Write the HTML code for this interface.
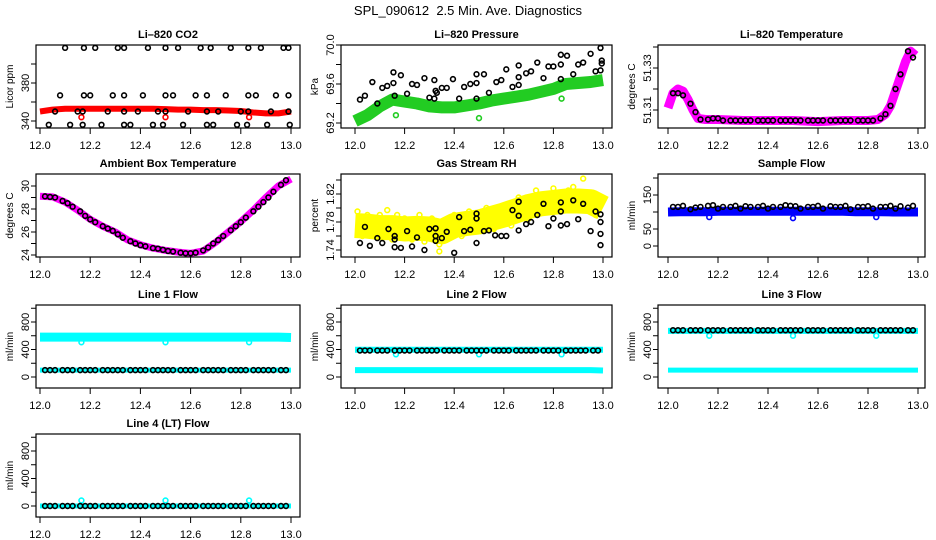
<!DOCTYPE html>
<html><head><meta charset="utf-8"><title>SPL_090612 Diagnostics</title>
<style>
html,body{margin:0;padding:0;background:#fff;}
svg{display:block;font-family:"Liberation Sans",sans-serif;}
</style></head>
<body>
<svg id="chart" width="936" height="540" viewBox="0 0 936 540" xmlns="http://www.w3.org/2000/svg">
<text x="468" y="15" font-size="13" text-anchor="middle" style="white-space:pre" xml:space="preserve">SPL_090612  2.5 Min. Ave. Diagnostics</text>
</svg>
<script>
// ---- shared data arrays ----
const xTicks = [12.0, 12.2, 12.4, 12.6, 12.8, 13.0];
const xTickLabels = ["12.0", "12.2", "12.4", "12.6", "12.8", "13.0"];
const bandTimes = [12.0,12.05,12.1,12.15,12.2,12.25,12.3,12.35,12.4,12.45,12.5,12.55,12.6,12.65,12.7,12.75,12.8,12.85,12.9,12.95,13.0];
const blackTimes = [12.02,12.04,12.06,12.09,12.11,12.13,12.16,12.18,12.20,12.22,12.25,12.27,12.29,12.31,12.33,12.36,12.38,12.40,12.42,12.45,12.47,12.49,12.51,12.53,12.56,12.58,12.60,12.62,12.65,12.67,12.69,12.71,12.73,12.76,12.78,12.80,12.82,12.85,12.87,12.89,12.91,12.93,12.96,12.98];
const outlierTimes = [12.165, 12.5, 12.833];

// CO2
const co2Red = [350,352,353,353,353,353,353,353,353,353,352.5,352,352,351.5,351.5,351,350.5,349,348,348,350];
const co2RedOut = [344,344,344];
const co2BlackT = [12.10,12.175,12.22,12.31,12.335,12.43,12.50,12.55,12.64,12.68,12.76,12.83,12.88,12.97,12.99,
 12.08,12.175,12.20,12.29,12.335,12.41,12.50,12.53,12.62,12.665,12.74,12.83,12.86,12.94,12.99,
 12.06,12.15,12.17,12.27,12.335,12.39,12.47,12.50,12.59,12.665,12.71,12.80,12.83,12.92,12.99,
 12.035,12.12,12.17,12.245,12.335,12.36,12.45,12.49,12.57,12.665,12.69,12.785,12.825,12.905,12.995];
const co2BlackV = [417,417,417,417,417,417,417,417,417,417,417,417,417,417,417,
 367,367,367,367,367,367,367,367,367,367,367,367,367,367,367,
 350,350,350,350,350,350,350,350,350,350,350,350,350,350,350,
 336,336,336,336,336,336,336,336,336,336,336,336,336,336,336];

// Pressure
const presGreen = [69.22,69.28,69.37,69.44,69.42,69.40,69.37,69.36,69.36,69.38,69.40,69.43,69.45,69.47,69.49,69.52,69.55,69.60,69.61,69.62,69.64];
const presGreenOut = [69.28,69.25,69.45];
const presBlackT = [12.02,12.04,12.07,12.09,12.11,12.13,12.155,12.155,12.16,12.185,12.21,12.23,12.25,12.28,12.30,12.32,12.32,12.325,12.33,12.35,12.37,12.395,12.42,12.44,12.465,12.49,12.49,12.49,12.52,12.54,12.57,12.59,12.61,12.635,12.66,12.66,12.66,12.69,12.71,12.735,12.76,12.78,12.80,12.83,12.83,12.83,12.855,12.88,12.90,12.92,12.95,12.97,12.99,12.99,12.995,12.995];
const presBlackV = [69.44,69.48,69.62,69.40,69.56,69.58,69.61,69.72,69.48,69.69,69.50,69.60,69.59,69.66,69.46,69.64,69.45,69.53,69.51,69.56,69.56,69.65,69.45,69.57,69.60,69.61,69.70,69.45,69.70,69.51,69.62,69.64,69.75,69.57,69.59,69.79,69.67,69.71,69.73,69.82,69.66,69.78,69.78,69.80,69.90,69.65,69.89,69.70,69.80,69.82,69.91,69.73,69.74,69.97,69.84,69.81];

// Li-820 temperature
const tempTimes = [12.0,12.02,12.04,12.06,12.08,12.1,12.12,12.15,12.2,12.3,12.4,12.5,12.6,12.7,12.8,12.84,12.87,12.89,12.91,12.93,12.95,12.97,12.99];
const tempMagenta = [51.311,51.318,51.320,51.319,51.315,51.310,51.306,51.3055,51.3055,51.305,51.305,51.305,51.3045,51.305,51.305,51.3055,51.308,51.312,51.319,51.326,51.333,51.338,51.336];
const tempBlack = [51.318,51.318,51.317,51.313,51.309,51.3055,51.3055,51.306,51.306,51.305,51.305,51.305,51.305,51.305,51.305,51.305,51.305,51.305,51.305,51.305,51.305,51.305,51.305,51.305,51.305,51.305,51.305,51.305,51.305,51.305,51.305,51.305,51.305,51.305,51.305,51.305,51.305,51.306,51.308,51.312,51.320,51.327,51.338,51.335];

// Ambient box temperature
const ambMagenta = [29.1,29.05,28.6,27.9,27.1,26.5,26.0,25.3,24.9,24.6,24.4,24.25,24.15,24.35,25.1,26.0,26.9,27.9,29.0,30.0,30.6];
const ambBlack = [29.1,29.05,29.0,28.7,28.5,28.2,27.8,27.4,27.1,26.85,26.5,26.3,26.1,25.8,25.5,25.2,25.0,24.85,24.75,24.6,24.55,24.45,24.35,24.3,24.2,24.15,24.15,24.2,24.4,24.65,25.0,25.3,25.65,26.15,26.5,26.85,27.25,27.8,28.2,28.6,29.0,29.5,30.1,30.5];

// Gas stream RH
const rhYellowBand = [1.775,1.774,1.772,1.772,1.770,1.771,1.770,1.766,1.775,1.778,1.780,1.785,1.790,1.796,1.802,1.806,1.808,1.810,1.810,1.809,1.800];
const rhYellowT = [12.01,12.03,12.05,12.08,12.10,12.13,12.15,12.17,12.2,12.23,12.26,12.28,12.31,12.34,12.34,12.37,12.4,12.43,12.46,12.5,12.53,12.56,12.6,12.63,12.66,12.7,12.73,12.76,12.8,12.83,12.86,12.88,12.9,12.92,12.95,12.97,12.99,12.02,12.07,12.12,12.19,12.25,12.3,12.45,12.55,12.62,12.68,12.75,12.82,12.94];
const rhYellowV = [1.795,1.760,1.790,1.760,1.790,1.797,1.755,1.790,1.785,1.755,1.790,1.752,1.785,1.738,1.748,1.760,1.790,1.760,1.795,1.770,1.800,1.770,1.800,1.775,1.815,1.785,1.825,1.795,1.828,1.795,1.825,1.830,1.800,1.842,1.820,1.790,1.810,1.780,1.785,1.765,1.775,1.780,1.762,1.785,1.785,1.800,1.805,1.815,1.812,1.815];
const rhBlackT = [12.02,12.04,12.06,12.09,12.11,12.135,12.16,12.16,12.16,12.185,12.21,12.23,12.25,12.28,12.30,12.325,12.325,12.325,12.35,12.37,12.40,12.42,12.44,12.465,12.49,12.49,12.49,12.52,12.54,12.565,12.59,12.61,12.635,12.66,12.66,12.66,12.69,12.71,12.735,12.76,12.78,12.80,12.83,12.83,12.83,12.855,12.88,12.90,12.92,12.95,12.97,12.99,12.99,12.99,12.99];
const rhBlackV = [1.750,1.773,1.746,1.757,1.750,1.770,1.744,1.755,1.760,1.743,1.767,1.745,1.758,1.740,1.770,1.771,1.760,1.753,1.757,1.766,1.736,1.787,1.767,1.769,1.792,1.785,1.750,1.767,1.768,1.761,1.760,1.760,1.797,1.789,1.809,1.768,1.777,1.780,1.790,1.806,1.774,1.785,1.795,1.808,1.775,1.777,1.811,1.784,1.806,1.767,1.795,1.791,1.780,1.763,1.747];

// Sample flow
const sampBlue = [100,101,101,101,102,102,102,102,102,102,102,102,102,102,102,101,101,101,100,100,100];
const sampBlueOut = [85,82,85];
const sampBlack = [115,115,118,108,113,115,118,120,110,115,115,118,110,117,115,115,118,110,115,115,120,118,117,110,115,115,118,110,117,115,115,118,108,115,115,117,110,115,115,118,110,117,113,118];

// Line flows
const line1CyanHigh = [580,580,580,580,580,580,580,580,580,580,580,580,580,580,580,580,580,580,580,580,575];
const line1CyanLow = [100,100,100,100,100,100,100,100,100,100,100,100,100,100,100,100,100,100,100,100,100];
const line1CyanOut = [505,505,505];
const line1Black = [100,100,100,100,100,100,100,100,100,100,100,100,100,100,100,100,100,100,100,100,100,100,100,100,100,100,100,100,100,100,100,100,100,100,100,100,100,100,100,100,100,100,100,100];
const line2CyanHigh = [395,395,395,395,395,395,395,395,395,395,395,395,395,395,395,395,395,395,395,395,395];
const line2CyanLow = [100,100,100,100,100,100,100,100,100,100,100,100,100,100,100,100,100,100,100,100,95];
const line2CyanOut = [330,330,330];
const line2Black = [385,385,385,385,385,385,385,385,385,385,385,385,385,385,385,385,385,385,385,385,385,385,385,385,385,385,385,385,385,385,385,385,385,385,385,385,385,385,385,385,385,385,385,385];
const line3CyanHigh = [670,670,670,670,670,670,670,670,670,670,670,670,670,670,670,670,670,670,670,670,670];
const line3CyanLow = [100,100,100,100,100,100,100,100,100,100,100,100,100,100,100,100,100,100,100,100,100];
const line3CyanOut = [600,600,600];
const line3Black = [680,680,680,680,680,680,680,680,680,680,680,680,680,680,680,680,680,680,680,680,680,680,680,680,680,680,680,680,680,680,680,680,680,680,680,680,680,680,680,680,680,680,680,680];
const line4Cyan = [0,0,0,0,0,0,0,0,0,0,0,0,0,0,0,0,0,0,0,0,0];
const line4CyanOut = [80,80,80];
const line4Black = [0,0,0,0,0,0,0,0,0,0,0,0,0,0,0,0,0,0,0,0,0,0,0,0,0,0,0,0,0,0,0,0,0,0,0,0,0,0,0,0,0,0,0,0];

// y tick arrays
const co2YTicks = [340,360,380,400];      const co2YLabels = ["340","","380",""];
const presYTicks = [69.2,69.4,69.6,69.8,70.0]; const presYLabels = ["69.2","","69.6","","70.0"];
const tempYTicks = [51.31,51.32,51.33,51.34]; const tempYLabels = ["51.31","","51.33",""];
const ambYTicks = [24,25,26,27,28,29,30];  const ambYLabels = ["24","","26","","28","","30"];
const rhYTicks = [1.74,1.76,1.78,1.80,1.82,1.84]; const rhYLabels = ["1.74","","1.78","","1.82",""];
const sampYTicks = [0,50,100,150,200];   const sampYLabels = ["0","50","","150",""];
const flowYTicks = [0,200,400,600,800,1000]; const flowYLabels = ["0","","400","","800",""];

const NS = "http://www.w3.org/2000/svg";
const svg = document.getElementById("chart");
function mk(tag, attrs, parent) {
  const e = document.createElementNS(NS, tag);
  for (const k in attrs) e.setAttribute(k, attrs[k]);
  (parent || svg).appendChild(e);
  return e;
}
function makeScales(p) {
  p.sx = t => p.x0 + (t - 12) * (p.x1 - p.x0);
  p.sy = v => p.yA + (v - p.vA) * (p.yB - p.yA) / (p.vB - p.vA);
}
function drawFrame(p, yTicks, yLabels) {
  makeScales(p);
  const g = mk("g", {});
  
  
  p.g = g;
  const clip = mk("clipPath", {id: "clip-" + p.name}, g);
  mk("rect", {x: p.L, y: p.T, width: p.R - p.L, height: p.B - p.T}, clip);
  p.plot = mk("g", {"clip-path": "url(#clip-" + p.name + ")"}, g);
  
  
  const t = mk("text", {x: (p.L + p.R) / 2, y: p.T - 7, "font-size": 11, "font-weight": "bold", "text-anchor": "middle"}, g);
  t.textContent = p.title;
  
  
  const yl = mk("text", {transform: "translate(" + (p.L - 23) + "," + ((p.T + p.B) / 2) + ") rotate(-90)", "font-size": 10, "text-anchor": "middle"}, g);
  yl.textContent = p.ylab;
  
  
  const xa = mk("g", {}, g);
  
  
  xTicks.forEach((v, i) => {
    const x = p.sx(v);
    mk("line", {x1: x, x2: x, y1: p.B, y2: p.B + 6, stroke: "#000", "stroke-width": 1}, xa);
    const tl = mk("text", {x: x, y: p.B + 21, "font-size": 11, "text-anchor": "middle"}, xa);
    tl.textContent = xTickLabels[i];
    
    
  });
  const ya = mk("g", {}, g);
  
  
  yTicks.forEach((v, i) => {
    const y = p.sy(v);
    if (y < p.T - 1 || y > p.B + 1) return;
    mk("line", {x1: p.L - 5, x2: p.L, y1: y, y2: y, stroke: "#000", "stroke-width": 1}, ya);
    if (yLabels[i]) {
      const tl = mk("text", {transform: "translate(" + (p.L - 7) + "," + y + ") rotate(-90)", "font-size": 11, "text-anchor": "middle"}, ya);
      tl.textContent = yLabels[i];
      
      
    }
  });
  p.box = mk("rect", {x: p.L, y: p.T, width: p.R - p.L, height: p.B - p.T, fill: "none", stroke: "#000", "stroke-width": 1.2}, g);
  
  
}
function band(p, times, vals, color, width, name) {
  const pts = times.map((t, i) => p.sx(t).toFixed(1) + "," + p.sy(vals[i]).toFixed(1)).join(" ");
  const pl = mk("polyline", {points: pts, fill: "none", stroke: color, "stroke-width": width, "stroke-linejoin": "round", "stroke-linecap": "butt"}, p.plot);
  
  
}
function pointsOf(p, times, vals, color, name, r, sw) {
  const g = mk("g", {}, p.plot);
  
  
  const n = Math.min(times.length, vals.length);
  for (let i = 0; i < n; i++) {
    const c = mk("circle", {cx: p.sx(times[i]), cy: p.sy(vals[i]), r: r || 2.4, fill: "none", stroke: color, "stroke-width": sw || 1.6}, g);
    
    
  }
}

const col1 = {L: 36, R: 300, x0: 40, x1: 291};
const col2 = {L: 341, R: 612, x0: 355, x1: 603};
const col3 = {L: 658, R: 925, x0: 668, x1: 918};
function P(col, T, extra) { return Object.assign({}, col, {T: T, B: T + 83}, extra); }

// Row 1
let p = P(col1, 45, {name: "co2", title: "Li\u2013820 CO2", ylab: "Licor ppm", vA: 340, yA: 121, vB: 380, yB: 83});
drawFrame(p, co2YTicks, co2YLabels);
band(p, bandTimes, co2Red, "#ff0000", 6, "co2-red-series");
pointsOf(p, outlierTimes, co2RedOut, "#ff0000", "co2-red-outliers");
pointsOf(p, co2BlackT, co2BlackV, "#000", "co2-black-series");

p = P(col2, 45, {name: "pressure", title: "Li\u2013820 Pressure", ylab: "kPa", vA: 69.2, yA: 123, vB: 70.0, yB: 45});
drawFrame(p, presYTicks, presYLabels);
band(p, bandTimes, presGreen, "#22cc22", 12, "pressure-green-series");
pointsOf(p, outlierTimes, presGreenOut, "#22cc22", "pressure-green-outliers");
pointsOf(p, presBlackT, presBlackV, "#000", "pressure-black-series");

p = P(col3, 45, {name: "li820-temp", title: "Li\u2013820 Temperature", ylab: "degrees C", vA: 51.31, yA: 110, vB: 51.33, yB: 68});
drawFrame(p, tempYTicks, tempYLabels);
band(p, tempTimes, tempMagenta, "#ff00ff", 9, "li820-temp-magenta-series");
pointsOf(p, blackTimes, tempBlack, "#000", "li820-temp-black-series");

// Row 2
p = P(col1, 174, {name: "ambient-temp", title: "Ambient Box Temperature", ylab: "degrees C", vA: 24, yA: 255, vB: 30, yB: 186});
drawFrame(p, ambYTicks, ambYLabels);
band(p, bandTimes, ambMagenta, "#ff00ff", 7, "ambient-magenta-series");
pointsOf(p, blackTimes, ambBlack, "#000", "ambient-black-series");

p = P(col2, 174, {name: "rh", title: "Gas Stream RH", ylab: "percent", vA: 1.74, yA: 250, vB: 1.82, yB: 194});
drawFrame(p, rhYTicks, rhYLabels);
band(p, bandTimes, rhYellowBand, "#ffff00", 25, "rh-yellow-band");
pointsOf(p, rhYellowT, rhYellowV, "#ffff00", "rh-yellow-series");
pointsOf(p, rhBlackT, rhBlackV, "#000", "rh-black-series");

p = P(col3, 174, {name: "sample-flow", title: "Sample Flow", ylab: "ml/min", vA: 0, yA: 246, vB: 150, yB: 195});
drawFrame(p, sampYTicks, sampYLabels);
band(p, bandTimes, sampBlue, "#0000ff", 9, "sample-blue-series");
pointsOf(p, outlierTimes, sampBlueOut, "#0000ff", "sample-blue-outliers");
pointsOf(p, blackTimes, sampBlack, "#000", "sample-black-series");

// Row 3
p = P(col1, 305, {name: "line1-flow", title: "Line 1 Flow", ylab: "ml/min", vA: 0, yA: 377, vB: 800, yB: 322});
drawFrame(p, flowYTicks, flowYLabels);
band(p, bandTimes, line1CyanHigh, "#00ffff", 9, "line1-cyan-high");
band(p, bandTimes, line1CyanLow, "#00ffff", 5, "line1-cyan-low");
pointsOf(p, outlierTimes, line1CyanOut, "#00ffff", "line1-cyan-outliers");
pointsOf(p, blackTimes, line1Black, "#000", "line1-black-series");

p = P(col2, 305, {name: "line2-flow", title: "Line 2 Flow", ylab: "ml/min", vA: 0, yA: 377, vB: 800, yB: 322});
drawFrame(p, flowYTicks, flowYLabels);
band(p, bandTimes, line2CyanHigh, "#00ffff", 6, "line2-cyan-high");
band(p, bandTimes, line2CyanLow, "#00ffff", 6, "line2-cyan-low");
pointsOf(p, outlierTimes, line2CyanOut, "#00ffff", "line2-cyan-outliers");
pointsOf(p, blackTimes, line2Black, "#000", "line2-black-series");

p = P(col3, 305, {name: "line3-flow", title: "Line 3 Flow", ylab: "ml/min", vA: 0, yA: 377, vB: 800, yB: 322});
drawFrame(p, flowYTicks, flowYLabels);
band(p, bandTimes, line3CyanHigh, "#00ffff", 6, "line3-cyan-high");
band(p, bandTimes, line3CyanLow, "#00ffff", 5, "line3-cyan-low");
pointsOf(p, outlierTimes, line3CyanOut, "#00ffff", "line3-cyan-outliers");
pointsOf(p, blackTimes, line3Black, "#000", "line3-black-series");

// Row 4
p = P(col1, 434, {name: "line4-flow", title: "Line 4 (LT) Flow", ylab: "ml/min", vA: 0, yA: 506, vB: 800, yB: 451});
drawFrame(p, flowYTicks, flowYLabels);
band(p, bandTimes, line4Cyan, "#00ffff", 5, "line4-cyan-series");
pointsOf(p, outlierTimes, line4CyanOut, "#00ffff", "line4-cyan-outliers");
pointsOf(p, blackTimes, line4Black, "#000", "line4-black-series");
</script>
</body></html>
